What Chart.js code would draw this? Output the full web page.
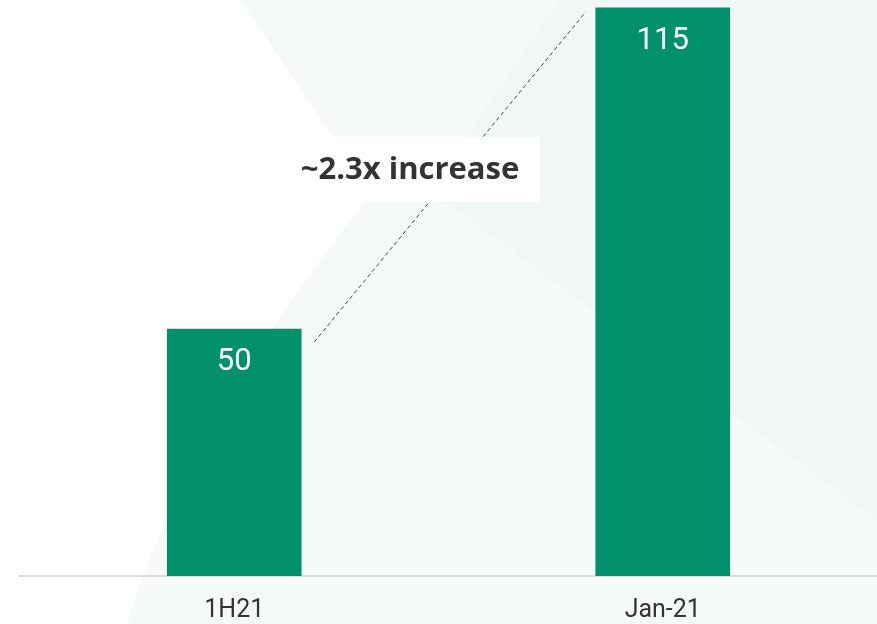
<!DOCTYPE html>
<html>
<head>
<meta charset="utf-8">
<script src="https://cdn.jsdelivr.net/npm/chart.js@4.4.1/dist/chart.umd.min.js"></script>
<style>
  html, body { margin: 0; padding: 0; background: #fff; overflow: hidden; }
  #wrap { position: relative; width: 877px; height: 624px; }
</style>
</head>
<body>
<div id="wrap"><canvas id="growth"></canvas></div>
<script>
var periods = ['1H21', 'Jan-21'];
var volumes = [50, 115];
var multipleLabel = '~2.3x increase';

var barGreen = '#00906c';

// soft background shapes behind the plot
var backdrop = {
    id: 'backdrop',
    beforeDraw: function (chart) {
        var c = chart.ctx;
        c.save();
        c.fillStyle = '#f5faf8';
        c.fillRect(0, 0, chart.width, chart.height);
        c.fillStyle = '#f0f7f4';
        c.beginPath();
        c.moveTo(560, 0);
        c.lineTo(877, 0);
        c.lineTo(877, 520);
        c.lineTo(430, 190);
        c.closePath();
        c.fill();
        c.fillStyle = '#ffffff';
        c.beginPath();
        c.moveTo(0, 0);
        c.lineTo(240, 0);
        c.lineTo(372, 193);
        c.quadraticCurveTo(190, 420, 127, 624);
        c.lineTo(0, 624);
        c.closePath();
        c.fill();
        c.restore();
    }
};

// value labels inside bars, dashed growth line and its caption
var annotate = {
    id: 'annotate',
    afterDatasetsDraw: function (chart) {
        var c = chart.ctx;
        var bars = chart.getDatasetMeta(0).data;
        c.save();
        c.fillStyle = '#ffffff';
        c.font = '400 31px Roboto, "Noto Sans", sans-serif';
        c.textAlign = 'center';
        c.textBaseline = 'middle';
        bars.forEach(function (b, i) {
            c.fillText(String(volumes[i]), b.x, b.y + 33);
        });

        var a = bars[0], z = bars[1];
        var x0 = a.x + a.width / 2 + 13, y0 = a.y + 13;
        var x1 = z.x - z.width / 2 - 10, y1 = z.y + 4;
        c.strokeStyle = '#444';
        c.lineWidth = 1;
        c.setLineDash([4, 3]);
        c.beginPath();
        c.moveTo(x0, y0);
        c.lineTo(x1, y1);
        c.stroke();
        c.setLineDash([]);

        c.fillStyle = '#ffffff';
        c.fillRect(280, 137, 260, 65);
        c.fillStyle = '#333333';
        c.font = 'bold 31px "Open Sans", "Noto Sans", sans-serif';
        c.fillText(multipleLabel, 410, 170);
        c.restore();
    }
};

new Chart(document.getElementById('growth'), {
    type: 'bar',
    data: {
        labels: periods,
        datasets: [{
            data: volumes,
            backgroundColor: barGreen,
            barThickness: 134
        }]
    },
    options: {
        responsive: true,
        maintainAspectRatio: false,
        animation: false,
        layout: { padding: { left: 20, right: 0, top: 0, bottom: 0 } },
        plugins: {
            legend: { display: false },
            tooltip: { enabled: false }
        },
        scales: {
            x: {
                grid: { display: false, drawTicks: false },
                border: { display: true, color: '#dcdcdc', width: 2 },
                ticks: {
                    color: '#333',
                    padding: 20,
                    font: { family: 'Roboto, "Noto Sans", sans-serif', size: 25 }
                },
                afterFit: function (scale) {
                    scale.height = 48;
                }
            },
            y: {
                display: false,
                min: 0,
                max: 116.6
            }
        }
    },
    plugins: [backdrop, annotate]
});
</script>
</body>
</html>
